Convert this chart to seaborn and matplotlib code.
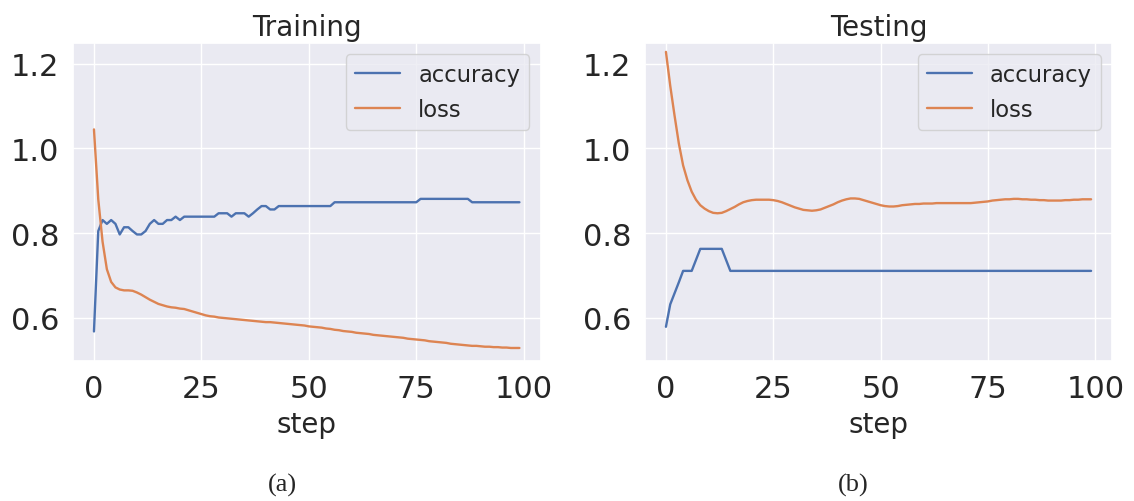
import matplotlib
matplotlib.use("Agg")
import matplotlib.pyplot as plt
import numpy as np
import pandas as pd
import seaborn as sns

# ---- training curves (one value per step, steps 0..99) ----
train_accuracy = [
    0.568, 0.805, 0.831, 0.822, 0.831, 0.822, 0.797, 0.814, 0.814, 0.805,
    0.797, 0.797, 0.805, 0.822, 0.831, 0.822, 0.822, 0.831, 0.831, 0.839,
    0.831, 0.839, 0.839, 0.839, 0.839, 0.839, 0.839, 0.839, 0.839, 0.847,
    0.847, 0.847, 0.839, 0.847, 0.847, 0.847, 0.839, 0.847, 0.856, 0.864,
    0.864, 0.856, 0.856, 0.864, 0.864, 0.864, 0.864, 0.864, 0.864, 0.864,
    0.864, 0.864, 0.864, 0.864, 0.864, 0.864, 0.873, 0.873, 0.873, 0.873,
    0.873, 0.873, 0.873, 0.873, 0.873, 0.873, 0.873, 0.873, 0.873, 0.873,
    0.873, 0.873, 0.873, 0.873, 0.873, 0.873, 0.881, 0.881, 0.881, 0.881,
    0.881, 0.881, 0.881, 0.881, 0.881, 0.881, 0.881, 0.881, 0.873, 0.873,
    0.873, 0.873, 0.873, 0.873, 0.873, 0.873, 0.873, 0.873, 0.873, 0.873,
]
train_loss = [
    1.045, 0.880, 0.780, 0.715, 0.685, 0.672, 0.667, 0.665, 0.665, 0.664,
    0.660, 0.655, 0.649, 0.643, 0.638, 0.633, 0.630, 0.627, 0.625, 0.624,
    0.622, 0.621, 0.618, 0.615, 0.612, 0.609, 0.606, 0.604, 0.603, 0.601,
    0.600, 0.599, 0.598, 0.597, 0.596, 0.595, 0.594, 0.593, 0.592, 0.591,
    0.590, 0.590, 0.589, 0.588, 0.587, 0.586, 0.585, 0.584, 0.583, 0.582,
    0.580, 0.579, 0.578, 0.577, 0.575, 0.574, 0.572, 0.571, 0.569, 0.568,
    0.567, 0.565, 0.564, 0.563, 0.562, 0.560, 0.559, 0.558, 0.557, 0.556,
    0.555, 0.554, 0.553, 0.551, 0.550, 0.549, 0.548, 0.547, 0.545, 0.544,
    0.543, 0.542, 0.541, 0.539, 0.538, 0.537, 0.536, 0.535, 0.534, 0.534,
    0.533, 0.532, 0.532, 0.531, 0.531, 0.530, 0.530, 0.529, 0.529, 0.529,
]

# ---- testing curves ----
test_accuracy = [
    0.579, 0.632, 0.658, 0.684, 0.711, 0.711, 0.711, 0.737, 0.763, 0.763,
    0.763, 0.763, 0.763, 0.763, 0.737, 0.711, 0.711, 0.711, 0.711, 0.711,
    0.711, 0.711, 0.711, 0.711, 0.711, 0.711, 0.711, 0.711, 0.711, 0.711,
    0.711, 0.711, 0.711, 0.711, 0.711, 0.711, 0.711, 0.711, 0.711, 0.711,
    0.711, 0.711, 0.711, 0.711, 0.711, 0.711, 0.711, 0.711, 0.711, 0.711,
    0.711, 0.711, 0.711, 0.711, 0.711, 0.711, 0.711, 0.711, 0.711, 0.711,
    0.711, 0.711, 0.711, 0.711, 0.711, 0.711, 0.711, 0.711, 0.711, 0.711,
    0.711, 0.711, 0.711, 0.711, 0.711, 0.711, 0.711, 0.711, 0.711, 0.711,
    0.711, 0.711, 0.711, 0.711, 0.711, 0.711, 0.711, 0.711, 0.711, 0.711,
    0.711, 0.711, 0.711, 0.711, 0.711, 0.711, 0.711, 0.711, 0.711, 0.711,
]
test_loss = [
    1.228, 1.148, 1.078, 1.012, 0.960, 0.925, 0.898, 0.879, 0.866, 0.858,
    0.852, 0.848, 0.847, 0.848, 0.852, 0.857, 0.862, 0.868, 0.873, 0.876,
    0.878, 0.879, 0.879, 0.879, 0.879, 0.878, 0.876, 0.873, 0.869, 0.865,
    0.861, 0.858, 0.855, 0.854, 0.853, 0.854, 0.856, 0.860, 0.864, 0.868,
    0.873, 0.877, 0.880, 0.882, 0.882, 0.881, 0.878, 0.875, 0.872, 0.869,
    0.866, 0.864, 0.863, 0.863, 0.864, 0.866, 0.867, 0.868, 0.869, 0.869,
    0.870, 0.870, 0.870, 0.871, 0.871, 0.871, 0.871, 0.871, 0.871, 0.871,
    0.871, 0.871, 0.872, 0.873, 0.874, 0.875, 0.877, 0.878, 0.879, 0.880,
    0.880, 0.881, 0.881, 0.880, 0.880, 0.879, 0.879, 0.878, 0.878, 0.877,
    0.877, 0.877, 0.877, 0.878, 0.878, 0.879, 0.879, 0.880, 0.880, 0.880,
]

steps = list(range(len(train_loss)))
series_names = ["accuracy", "loss"]
panel_titles = ["Training", "Testing"]
panel_captions = ["(a)", "(b)"]
x_ticks = [0, 25, 50, 75, 100]
y_ticks = [0.6, 0.8, 1.0, 1.2]


def long_frame(acc, loss):
    return pd.DataFrame({
        "step": steps + steps,
        "value": acc + loss,
        "series": [series_names[0]] * len(acc) + [series_names[1]] * len(loss),
    })


sns.set_theme(style="darkgrid", palette="deep")
plt.rcParams["font.family"] = ["DejaVu Sans"]

fig = plt.figure(figsize=(11.34, 5.02), dpi=100)
ax_train = fig.add_axes([0.0641, 0.2795, 0.4127, 0.6329])
ax_test = fig.add_axes([0.5685, 0.2795, 0.4124, 0.6329])

frames = [long_frame(train_accuracy, train_loss), long_frame(test_accuracy, test_loss)]

for ax, df, title in zip([ax_train, ax_test], frames, panel_titles):
    sns.lineplot(data=df, x="step", y="value", hue="series", ax=ax,
                 linewidth=1.7, palette=["#4C72B0", "#DD8452"])
    ax.set_title(title, fontsize=20, pad=6)
    ax.set_xlabel("step", fontsize=20, labelpad=5)
    ax.set_ylabel("")
    ax.set_ylim(0.499, 1.249)
    ax.set_xticks(x_ticks)
    ax.set_yticks(y_ticks)
    ax.set_yticklabels([f"{v:.1f}" for v in y_ticks])
    ax.tick_params(axis="both", labelsize=22)
    leg = ax.legend(loc="upper right", fontsize=16.3)
    leg.set_title(None)

fig.text(0.249, 0.01, panel_captions[0], fontsize=19, family="Liberation Serif",
         ha="center", va="bottom")
fig.text(0.752, 0.01, panel_captions[1], fontsize=19, family="Liberation Serif",
         ha="center", va="bottom")

fig.savefig("out.png", dpi=100)
